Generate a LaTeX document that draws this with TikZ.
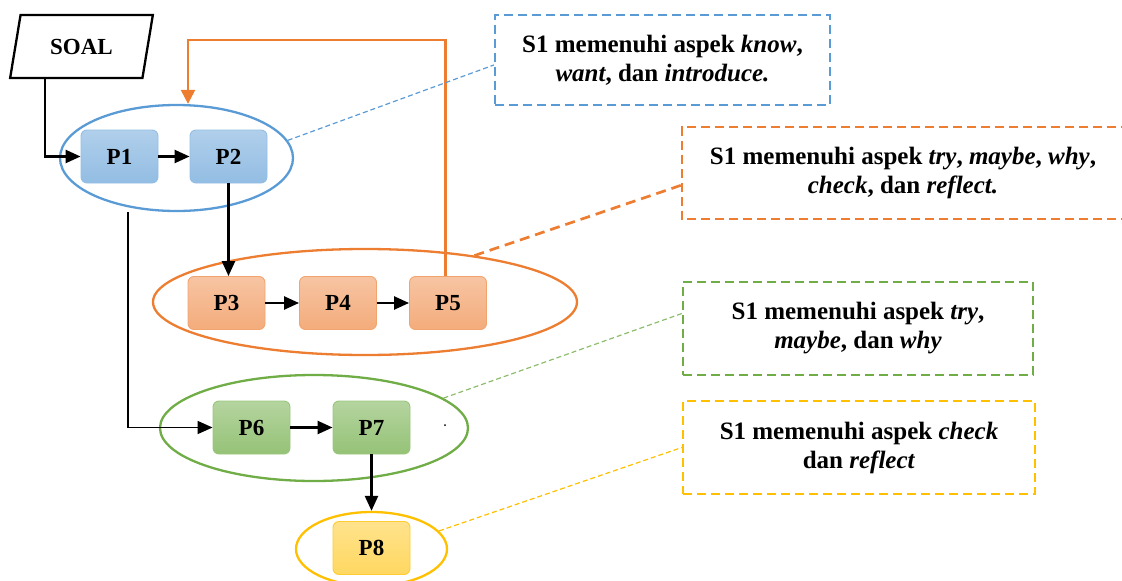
\documentclass[tikz,border=0pt]{standalone}
\usepackage{fontspec}
\setmainfont{Liberation Serif}
\usetikzlibrary{shapes.geometric,arrows.meta}
\definecolor{cblue}{HTML}{5B9BD5}
\definecolor{corange}{HTML}{ED7D31}
\definecolor{cgreen}{HTML}{70AD47}
\definecolor{cyellow}{HTML}{FFC000}
\begin{document}
\begin{tikzpicture}[x=1pt,y=-1pt,
  pbox/.style={rounded corners=6pt,minimum width=77pt,minimum height=53pt,line width=0.9pt,font=\fontsize{23}{26}\selectfont\bfseries},
  bluebox/.style={pbox,draw=cblue!65,top color=cblue!48,bottom color=cblue!66},
  orangebox/.style={pbox,draw=corange!70,top color=corange!45,bottom color=corange!64},
  greenbox/.style={pbox,draw=cgreen!70,top color=cgreen!52,bottom color=cgreen!74},
  yellowbox/.style={pbox,draw=cyellow!80,top color=cyellow!45,bottom color=cyellow!62},
  group/.style={ellipse,line width=2.3pt,inner sep=0pt},
  callout/.style={align=center,line width=2.3pt,dash pattern=on 9pt off 5pt,font=\fontsize{25}{29}\selectfont\bfseries},
  arr/.style={line width=2.4pt,-{Triangle[length=15pt,width=13pt]}},
  lead/.style={line width=1.2pt,dash pattern=on 5pt off 3pt}
]
\useasboundingbox (0,0) rectangle (1122,581);

% SOAL
\node[trapezium,trapezium left angle=75,trapezium right angle=105,trapezium stretches=true,
      draw,line width=2.3pt,minimum width=143pt,minimum height=63pt,
      font=\fontsize{23}{26}\selectfont\bfseries] (soal) at (81.5,46.5) {SOAL};

% group ellipses
\node[group,draw=cblue,minimum width=233pt,minimum height=106pt] (e1) at (176.5,158) {};
\node[group,draw=corange,minimum width=424pt,minimum height=106pt] (e2) at (365,302) {};
\node[group,draw=cgreen,minimum width=308pt,minimum height=106pt] (e3) at (314,428) {};
\node[group,draw=cyellow,minimum width=151pt,minimum height=74pt] (e4) at (371.5,549) {};

% process boxes
\node[bluebox] (p1) at (119.5,156.5) {P1};
\node[bluebox] (p2) at (228.5,156.5) {P2};
\node[orangebox] (p3) at (226.5,303) {P3};
\node[orangebox] (p4) at (338,303) {P4};
\node[orangebox] (p5) at (448,303) {P5};
\node[greenbox] (p6) at (251.5,427.5) {P6};
\node[greenbox] (p7) at (371.5,427.5) {P7};
\node[yellowbox] (p8) at (371.5,548) {P8};

\fill (445,425) circle (1pt);

% callouts
\node[callout,draw=cblue,minimum width=335pt,minimum height=90pt] (c1) at (662.5,60)
  {S1 memenuhi aspek \textit{know},\\ \textit{want}, dan \textit{introduce.}};
\node[callout,minimum width=440pt,minimum height=90pt] (c2) at (903,173)
  {S1 memenuhi aspek \textit{try}, \textit{maybe}, \textit{why},\\ \textit{check}, dan \textit{reflect.}};
\draw[corange,line width=2.3pt,dash pattern=on 9pt off 5pt]
  ([xshift=20pt]c2.north east) -- (c2.north west) -- (c2.south west) -- ([xshift=20pt]c2.south east);
\node[callout,draw=cgreen,minimum width=350pt,minimum height=93pt] (c3) at (858,328.5)
  {S1 memenuhi aspek \textit{try},\\ \textit{maybe}, dan \textit{why}};
\node[callout,draw=cyellow,minimum width=352pt,minimum height=93pt] (c4) at (859,447.5)
  {S1 memenuhi aspek \textit{check}\\ dan \textit{reflect}};

% flow connectors
\coordinate (soalout) at (45,78);
\draw[arr] (soalout) |- (p1.west);
\draw[arr] (p1.east) -- (p2.west);
\draw[arr] (p2.south) -- (p2.south |- p3.north);
\draw[arr] (p3.east) -- (p4.west);
\draw[arr] (p4.east) -- (p5.west);
\draw[arr] (p6.east) -- (p7.west);
\draw[arr] (p7.south) -- (p7.south |- e4.north);
\draw[line width=1.5pt,-{Triangle[length=15pt,width=13pt]}] ([xshift=-48.5pt]e1.south) |- (p6.west);
\coordinate (fb) at (188,40);
\draw[corange,line width=2.4pt,-{Triangle[length=14pt,width=14pt]}]
  ([xshift=-2.5pt]p5.north) |- (fb) -- (fb |- e1.north);

% leader lines
\draw[lead,cblue] (e1.9) -- ([yshift=-5pt]c1.west);
\draw[corange,line width=2.7pt,dash pattern=on 10pt off 6pt] (e2.23) -- ([yshift=-12pt]c2.west);
\draw[lead,cgreen!80] (e3.13) -- ([yshift=15pt]c3.west);
\draw[lead,cyellow] (e4.15) -- (c4.west);
\end{tikzpicture}
\end{document}
